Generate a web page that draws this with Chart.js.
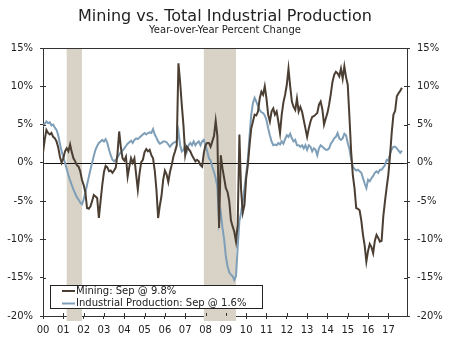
<!DOCTYPE html>
<html>
<head>
<meta charset="utf-8">
<title>Mining vs. Total Industrial Production</title>
<script src="https://cdn.jsdelivr.net/npm/chart.js@4.4.1/dist/chart.umd.min.js"></script>
<style>
  html, body { margin: 0; padding: 0; background: #fff; }
  #wrap { width: 450px; height: 338px; }
</style>
</head>
<body>
<div id="wrap"><canvas id="prodChart" width="450" height="338"></canvas></div>
<script>
// monthly series, Jan 2000 through Sep 2017, year-over-year % change
const startYear = 2000;
const lastTickYear = 2017;
const lastMonthName = 'Sep';

const mining = [
    1.3, 3.0, 4.3, 3.9, 3.7, 3.9, 3.4, 3.2, 2.8, 2.0, 0.8, 0.0,
    0.6, 1.5, 1.9, 1.5, 2.4, 1.4, 0.6, 0.2, -0.3, -0.5, -1.1, -2.2,
    -2.9, -3.8, -5.9, -6.0, -5.7, -5.0, -4.2, -4.4, -4.6, -7.2, -5.0, -2.9,
    -1.2, -0.4, -0.6, -1.1, -1.0, -1.3, -1.0, -0.6, 1.2, 4.1, 2.0, 0.6,
    0.3, 0.8, -1.8, -0.5, 0.6, 0.0, 0.6, -1.5, -3.5, -1.4, 0.1, 0.4,
    1.4, 1.8, 1.5, 1.7, 1.0, 0.6, -1.0, -3.5, -7.2, -5.6, -4.3, -2.2,
    -1.0, -1.5, -2.5, -1.2, -0.3, 0.8, 1.5, 2.3, 13.0, 10.5, 7.5, 4.8,
    1.0, 2.1, 1.8, 1.5, 1.0, 0.6, 0.2, 0.4, 0.2, -0.3, -0.5, 1.3,
    2.3, 2.6, 2.6, 2.1, 2.8, 3.5, 5.5, 3.5, -8.5, 1.0, -0.7, -2.0,
    -3.3, -3.8, -5.0, -7.5, -8.3, -9.0, -10.3, -8.0, 3.7, -3.5, -6.5, -5.5,
    -2.0, -0.3, 2.3, 4.5, 5.4, 6.3, 6.2, 6.7, 8.4, 9.3, 8.9, 10.0,
    8.4, 6.3, 5.4, 6.7, 7.1, 6.3, 6.7, 5.4, 3.9, 6.3, 7.9, 8.9,
    10.2, 12.3, 10.0, 8.0, 7.3, 6.9, 8.4, 6.7, 7.3, 6.7, 5.6, 4.5,
    3.4, 4.5, 5.4, 6.0, 6.1, 6.3, 6.5, 7.6, 8.0, 7.0, 5.0, 5.8,
    6.5, 7.6, 9.0, 10.6, 11.5, 11.9, 11.7, 11.3, 12.3, 11.0, 12.6, 11.2,
    10.2, 6.0, 1.5, -1.6, -3.3, -5.9, -6.0, -6.2, -7.5, -9.4, -10.8, -12.9,
    -11.5, -10.6, -11.0, -11.8, -10.2, -9.4, -9.8, -10.3, -10.2, -7.0, -5.0, -3.2,
    -1.5, 1.0, 4.0, 6.3, 6.8, 8.7, 9.1, 9.4, 9.8
];

const industrial = [
    4.8, 5.1, 5.4, 5.2, 5.3, 4.9, 5.0, 4.6, 4.3, 3.6, 2.5, 1.5,
    0.8, 0.0, -0.8, -1.6, -2.3, -2.9, -3.5, -4.0, -4.5, -4.8, -5.2, -5.4,
    -4.8, -3.9, -2.9, -1.9, -0.9, 0.0, 0.9, 1.7, 2.2, 2.6, 2.8, 3.0,
    2.8, 3.1, 2.6, 1.7, 1.0, 0.4, 0.2, 0.4, 0.7, 1.1, 1.4, 1.6,
    1.9, 2.2, 2.5, 2.7, 2.9, 2.6, 3.0, 3.2, 3.1, 3.3, 3.5, 3.7,
    3.9, 3.7, 3.9, 4.0, 3.9, 4.4, 3.7, 3.3, 2.8, 2.5, 2.6, 2.8,
    2.8, 2.7, 2.4, 2.1, 2.4, 2.6, 2.7, 2.8, 4.1, 2.3, 1.5, 1.7,
    2.3, 1.5, 2.3, 2.6, 2.3, 2.8, 2.3, 2.6, 2.8, 2.3, 2.8, 3.0,
    2.3, 1.5, 0.6, 0.3, -0.5, -1.2, -2.0, -3.2, -7.8, -6.5, -8.5, -10.0,
    -12.2, -13.5, -14.3, -14.6, -14.8, -15.3, -14.8, -11.0, -7.6, -6.5, -5.0, -3.3,
    -1.5, 0.5, 3.5, 6.3, 7.8, 8.5, 8.0, 7.4, 6.9, 6.6, 6.5, 6.2,
    5.6, 4.5, 3.6, 2.8, 2.3, 2.4, 2.3, 2.6, 2.4, 2.8, 2.5, 3.1,
    3.6, 3.4, 3.8, 3.2, 2.8, 3.0, 2.3, 2.3, 2.1, 2.3, 1.9, 2.3,
    1.7, 2.3, 2.1, 1.5, 1.9, 1.7, 1.0, 1.9, 2.3, 2.1, 1.9, 1.7,
    1.7, 1.9, 2.5, 2.8, 3.2, 3.4, 3.9, 3.2, 3.0, 3.2, 3.8, 3.6,
    2.6, 1.8, 0.5, -0.5, -0.8, -1.0, -0.9, -1.1, -1.3, -2.0, -2.7, -3.3,
    -2.2, -2.4, -2.0, -1.7, -1.3, -1.1, -1.3, -0.9, -0.9, -0.6, -0.3, 0.4,
    0.3, 1.2, 1.8, 2.1, 2.1, 1.9, 1.6, 1.3, 1.6
];

const yTicks = [-20, -15, -10, -5, 0, 5, 10, 15];

// recessions: [start year, start month, end year, end month]
const recessions = [
    [2001, 3, 2001, 11],
    [2007, 12, 2009, 6]
];

const miningColor = '#4b3e33';
const industrialColor = '#7f9fb8';
const shadeColor = '#d8d3c6';
const axisColor = '#333333';
const textColor = '#222222';
const fontFamily = '"DejaVu Sans", Verdana, sans-serif';

function toPoints(values) {
    return values.map((v, i) => ({ x: startYear + i / 12, y: v }));
}

function lastOf(values) {
    return values[values.length - 1];
}

const miningLabel = 'Mining: ' + lastMonthName + ' @ ' + lastOf(mining).toFixed(1) + '%';
const industrialLabel = 'Industrial Production: ' + lastMonthName + ' @ ' + lastOf(industrial).toFixed(1) + '%';

// shaded recession bars and the zero line, under the series
const backdropPlugin = {
    id: 'backdrop',
    beforeDatasetsDraw(chart) {
        const { ctx, chartArea, scales } = chart;
        ctx.save();
        ctx.fillStyle = shadeColor;
        recessions.forEach(r => {
            const x0 = scales.x.getPixelForValue(r[0] + (r[1] - 1) / 12);
            const x1 = scales.x.getPixelForValue(r[2] + r[3] / 12);
            ctx.fillRect(x0, chartArea.top + 1, x1 - x0, chartArea.bottom - chartArea.top + 4);
        });
        const y0 = Math.round(scales.y.getPixelForValue(0)) + 0.5;
        ctx.strokeStyle = '#111';
        ctx.lineWidth = 1;
        ctx.beginPath();
        ctx.moveTo(chartArea.left, y0);
        ctx.lineTo(chartArea.right, y0);
        ctx.stroke();
        ctx.restore();
    }
};

// titles, top frame line, inner tick marks and the legend box
const decorPlugin = {
    id: 'decor',
    afterDraw(chart) {
        const { ctx, chartArea, scales } = chart;
        const left = chartArea.left, right = chartArea.right;
        const top = chartArea.top, bottom = chartArea.bottom;
        ctx.save();

        ctx.fillStyle = textColor;
        ctx.textAlign = 'center';
        ctx.textBaseline = 'alphabetic';
        ctx.font = '16px ' + fontFamily;
        ctx.fillText('Mining vs. Total Industrial Production', 225, 21);
        ctx.font = '10px ' + fontFamily;
        ctx.fillText('Year-over-Year Percent Change', 225, 33);

        ctx.strokeStyle = axisColor;
        ctx.lineWidth = 1;
        ctx.beginPath();
        ctx.moveTo(left, Math.round(top) + 0.5);
        ctx.lineTo(right, Math.round(top) + 0.5);
        yTicks.forEach(v => {
            const y = Math.round(scales.y.getPixelForValue(v)) + 0.5;
            ctx.moveTo(left, y);
            ctx.lineTo(left + 3, y);
            ctx.moveTo(right - 3, y);
            ctx.lineTo(right, y);
        });
        scales.x.ticks.forEach(t => {
            const x = Math.round(scales.x.getPixelForValue(t.value)) + 0.5;
            ctx.moveTo(x, bottom);
            ctx.lineTo(x, bottom - 3);
        });
        ctx.stroke();

        // legend
        const bx = 50.5, by = 285.5, bw = 212, bh = 23;
        ctx.fillStyle = '#fff';
        ctx.fillRect(bx, by, bw, bh);
        ctx.strokeStyle = '#222';
        ctx.strokeRect(bx, by, bw, bh);
        const rows = [
            [miningLabel, miningColor, 291],
            [industrialLabel, industrialColor, 303.5]
        ];
        ctx.font = '10px ' + fontFamily;
        ctx.textAlign = 'left';
        ctx.textBaseline = 'middle';
        rows.forEach(([label, color, y]) => {
            ctx.strokeStyle = color;
            ctx.lineWidth = 2;
            ctx.beginPath();
            ctx.moveTo(62, y);
            ctx.lineTo(75, y);
            ctx.stroke();
            ctx.fillStyle = textColor;
            ctx.fillText(label, 76, y);
        });
        ctx.restore();
    }
};

const yAxis = (position) => ({
    type: 'linear',
    position: position,
    min: -20,
    max: 15,
    afterFit(scale) { scale.width = 43; },
    afterBuildTicks(scale) { scale.ticks = yTicks.map(v => ({ value: v })); },
    border: { display: true, color: axisColor, width: 1 },
    grid: { display: true, drawOnChartArea: false, drawTicks: true, tickLength: 3, color: axisColor },
    ticks: {
        padding: 7,
        color: textColor,
        font: { family: fontFamily, size: 10 },
        callback: v => v + '%'
    }
});

const ctxProd = document.getElementById('prodChart').getContext('2d');
const prodChart = new Chart(ctxProd, {
    type: 'line',
    data: {
        datasets: [{
            label: miningLabel,
            data: toPoints(mining),
            borderColor: miningColor,
            borderWidth: 2,
            pointRadius: 0,
            tension: 0
        }, {
            label: industrialLabel,
            data: toPoints(industrial),
            borderColor: industrialColor,
            borderWidth: 2,
            pointRadius: 0,
            tension: 0
        }]
    },
    options: {
        responsive: false,
        animation: false,
        layout: { padding: { top: 48, left: 0, right: 0, bottom: 0 } },
        plugins: {
            legend: { display: false },
            tooltip: { enabled: false }
        },
        scales: {
            x: {
                type: 'linear',
                min: startYear,
                max: lastTickYear + 11 / 12,
                afterFit(scale) { scale.height = 22; },
                afterBuildTicks(scale) {
                    const ticks = [];
                    for (let yr = startYear; yr <= lastTickYear; yr++) ticks.push({ value: yr });
                    scale.ticks = ticks;
                },
                border: { display: true, color: axisColor, width: 1 },
                grid: { display: true, drawOnChartArea: false, drawTicks: true, tickLength: 3, color: axisColor },
                ticks: {
                    autoSkip: false,
                    maxRotation: 0,
                    padding: 5,
                    color: textColor,
                    font: { family: fontFamily, size: 10 },
                    callback: v => String(v).slice(2)
                }
            },
            y: yAxis('left'),
            y2: yAxis('right')
        }
    },
    plugins: [backdropPlugin, decorPlugin]
});
</script>
</body>
</html>
